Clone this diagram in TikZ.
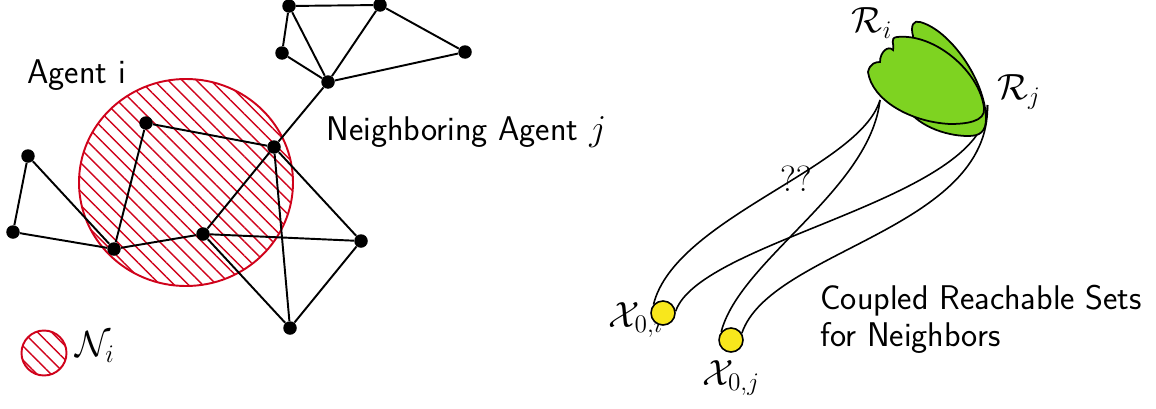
\documentclass[tikz,border=0pt]{standalone}
\usepackage{amsmath}
\usepackage{tikz}
\usepackage{xcolor}
\usetikzlibrary{patterns.meta}

\definecolor{hoodred}{HTML}{D0021B}
\definecolor{setgreen}{HTML}{7ED321}
\definecolor{inityellow}{HTML}{F8E71C}

\begin{document}
\begin{tikzpicture}[
  agent/.style={circle, fill=black, inner sep=0pt, minimum size=0.27cm},
  link/.style={line width=1.1pt},
  hood/.style={draw=hoodred, line width=1.1pt, pattern={Lines[angle=-45, distance=5.7pt, line width=0.8pt]}, pattern color=hoodred},
  reach/.style={draw, line width=1pt, fill=setgreen},
  tube/.style={line width=0.9pt},
  init/.style={circle, draw, line width=0.9pt, fill=inityellow, minimum size=0.48cm, inner sep=0pt},
  lbl/.style={font=\fontsize{19.5}{21}\selectfont\sffamily, inner sep=0pt},
  mlbl/.style={font=\fontsize{19.5}{21}\selectfont, inner sep=0pt},
]
\useasboundingbox (0,0) rectangle (23.12,8.16);

% neighbourhood of agent i
\draw[hood] (3.72,4.51) ellipse [x radius=2.14, y radius=2.07];

% agents
\node[agent] (p1) at (5.78,8.04) {};
\node[agent] (p2) at (7.60,8.06) {};
\node[agent] (p3) at (5.64,7.10) {};
\node[agent] (p4) at (9.30,7.12) {};
\node[agent] (p5) at (6.56,6.52) {};
\node[agent] (p6) at (2.92,5.70) {};
\node[agent] (agj) at (5.48,5.22) {};
\node[agent] (p8) at (0.56,5.04) {};
\node[agent] (p9) at (0.26,3.52) {};
\node[agent] (p10) at (2.28,3.18) {};
\node[agent] (p11) at (4.06,3.48) {};
\node[agent] (p12) at (7.22,3.34) {};
\node[agent] (p13) at (5.80,1.60) {};

% communication links
\foreach \u/\v in {p1/p2, p1/p3, p1/p5, p2/p5, p2/p4, p3/p5, p4/p5, p5/agj,
  p6/agj, p6/p10, p8/p9, p8/p10, p9/p10, p10/p11, p11/agj, p11/p12, p11/p13,
  agj/p12, agj/p13, p12/p13} {
  \draw[link] (\u) -- (\v);
}

% labels
\node[lbl, anchor=base west] (lagi) at (0.54,6.50) {Agent i};
\node[lbl, anchor=base west] (lagj) at (6.52,5.36) {Neighboring Agent $j$};

% legend
\draw[hood] (0.88,1.10) circle (0.45);
\node[mlbl] (lhood) at (1.90,1.22) {$\mathcal{N}_i$};

% initial sets
\node[mlbl] (lx0i) at (12.72,1.76) {$\mathcal{X}_{0,i}$};
\node[mlbl] (lx0j) at (14.62,0.60) {$\mathcal{X}_{0,j}$};
\node[init] (x0i) at (13.26,1.90) {};
\node[init] (x0j) at (14.62,1.36) {};

% ends of the tubes inside the reachable sets
\coordinate (setl) at (17.60,6.16);
\coordinate (setr) at (19.75,6.06);

% tubes
\draw[tube] (x0i.138) .. controls (13.50,3.80) and (17.20,4.80) .. (setl);
\draw[tube] (x0i.8) .. controls (14.00,3.36) and (19.70,4.16) .. (setr);
\draw[tube] (x0j.140) .. controls (14.80,2.96) and (17.40,4.36) .. (setl);
\draw[tube] (x0j.32) .. controls (15.40,3.16) and (19.80,3.56) .. (setr);

% reachable sets
\draw[reach] (18.26,7.44) .. controls (18.20,7.66) and (18.28,7.76) .. (18.40,7.72)
  .. controls (19.00,7.56) and (19.70,6.56) .. (19.72,5.80)
  .. controls (19.72,5.52) and (19.60,5.44) .. (19.36,5.44)
  .. controls (18.90,5.44) and (18.30,5.66) .. (18.10,6.06) -- cycle;
\draw[reach] (17.36,6.72) .. controls (17.40,6.90) and (17.52,6.92) .. (17.60,6.92)
  .. controls (17.60,7.12) and (17.76,7.26) .. (17.86,7.16)
  .. controls (17.90,7.26) and (17.78,7.40) .. (17.94,7.42)
  .. controls (18.70,7.50) and (19.60,6.72) .. (19.68,6.00)
  .. controls (19.72,5.72) and (19.30,5.68) .. (19.00,5.68)
  .. controls (18.20,5.72) and (17.44,6.16) .. (17.36,6.72) -- cycle;

\node[mlbl] (lri) at (17.44,7.70) {$\mathcal{R}_i$};
\node[mlbl] (lrj) at (20.38,6.32) {$\mathcal{R}_j$};
\node[mlbl] (lq) at (15.92,4.58) {$??$};

\node[lbl, anchor=north west, align=left] (lcrs) at (16.40,2.46) {Coupled Reachable Sets\\for Neighbors};

\end{tikzpicture}
\end{document}
